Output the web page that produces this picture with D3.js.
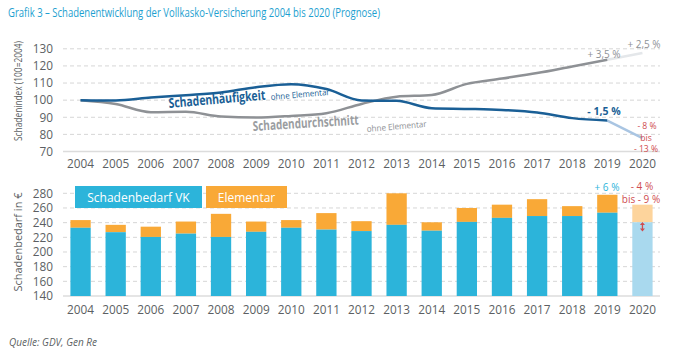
<!DOCTYPE html>
<html><head><meta charset="utf-8">
<script src="https://cdn.jsdelivr.net/npm/d3@7"></script>
<style>
body{margin:0;background:#fff;}
text{font-family:"Open Sans","Noto Sans",sans-serif;}
</style></head>
<body><svg id="c" width="674" height="360"></svg>
<script>
const years = ["2004","2005","2006","2007","2008","2009","2010","2011","2012","2013","2014","2015","2016","2017","2018","2019","2020"];
const haeufigkeit = [100, 99.8, 101.5, 102.9, 104.5, 107.6, 109.3, 106.5, 99.8, 99.6, 95.3, 94.9, 94.3, 92.8, 89.5, 88.1, 77.8];
const durchschnitt = [100, 97.8, 93, 93.2, 90.4, 89.8, 90.8, 92.4, 97.8, 102, 103, 109.5, 112.6, 115.8, 119.7, 123.6, 127.5];
const bedarfVK = [233, 227, 220.5, 225, 220.5, 227.5, 233, 230.5, 228.5, 237, 229, 241, 246.5, 249, 249, 253.5, 240.5];
const elementarTotal = [243.5, 237, 234.5, 241.5, 252, 241.5, 243.5, 253, 242, 280, 240.5, 260, 264.5, 272, 262.5, 278, 264.5];
const indexTicks = [70, 80, 90, 100, 110, 120, 130];
const bedarfTicks = [140, 160, 180, 200, 220, 240, 260, 280];

const svg = d3.select("#c");
const grey = "#5c5f63";
const x = d3.scaleBand().domain(years).range([63, 660]).padding(0);
const cx = d => x(d) + x.bandwidth() / 2;
const tickFs = 11.8;

// Title
svg.append("text").attr("x", 8).attr("y", 17).attr("fill", "#1e9fd0")
  .attr("font-size", 13).attr("textLength", 372).attr("lengthAdjust", "spacingAndGlyphs")
  .text("Grafik 3 – Schadenentwicklung der Vollkasko-Versicherung 2004 bis 2020 (Prognose)");

// ---------- Top chart ----------
const yT = d3.scaleLinear().domain([70, 130]).range([151.5, 48.8]);
indexTicks.forEach(t => {
  svg.append("line").attr("x1", 63).attr("x2", 660).attr("y1", yT(t)).attr("y2", yT(t))
    .attr("stroke", t === 70 ? "#dcdcdc" : "#d6d6d6").attr("stroke-width", t === 70 ? 1.5 : 1)
    .attr("stroke-dasharray", t === 70 ? null : "4,3");
});
const gax = svg.append("g").attr("transform", "translate(53,0)")
  .call(d3.axisLeft(yT).tickValues(indexTicks).tickSize(0).tickPadding(0));
gax.select(".domain").remove();
gax.selectAll("text").attr("font-size", tickFs).attr("fill", grey).attr("font-family", "Open Sans");

const gxT = svg.append("g").attr("transform", "translate(0,160)").call(d3.axisBottom(x).tickSize(0).tickPadding(0));
gxT.select(".domain").remove();
gxT.selectAll("text").attr("font-size", tickFs).attr("fill", grey).attr("font-family", "Open Sans");

svg.append("text").attr("transform", "translate(22,91) rotate(-90)").attr("text-anchor", "middle")
  .attr("font-size", 11.5).attr("fill", grey).attr("textLength", 100).attr("lengthAdjust", "spacingAndGlyphs")
  .text("Schadenindex (100=2004)");

const line = d3.line().x((d, i) => cx(years[i])).y(d => yT(d)).curve(d3.curveMonotoneX);
const n = years.length;
const seg = d3.line().x((d, i) => cx(years[n - 2 + i])).y(d => yT(d));
svg.append("path").datum(durchschnitt.slice(n - 2)).attr("fill", "none").attr("stroke", "#e4e7ea").attr("stroke-width", 2.5).attr("d", seg);
svg.append("path").datum(haeufigkeit.slice(n - 2)).attr("fill", "none").attr("stroke", "#a9c5e2").attr("stroke-width", 2.5).attr("d", seg);
svg.append("path").datum(durchschnitt.slice(0, n - 1)).attr("fill", "none").attr("stroke", "#8e9195").attr("stroke-width", 2.5).attr("d", line);
svg.append("path").datum(haeufigkeit.slice(0, n - 1)).attr("fill", "none").attr("stroke", "#1a5f96").attr("stroke-width", 2.5).attr("d", line);

// Line labels
svg.append("text").attr("transform", "translate(169,108) rotate(-5)").attr("font-size", 13.5).attr("font-weight", "bold")
  .attr("fill", "#1a5f96").attr("textLength", 97).attr("lengthAdjust", "spacingAndGlyphs").text("Schadenhäufigkeit");
svg.append("text").attr("transform", "translate(271,100) rotate(-5)").attr("font-size", 8.5)
  .attr("fill", "#1a5f96").attr("textLength", 59).attr("lengthAdjust", "spacingAndGlyphs").text("ohne Elementar");
svg.append("text").attr("transform", "translate(253,131) rotate(-3.5)").attr("font-size", 13.5).attr("font-weight", "bold")
  .attr("fill", "#9a9da1").attr("textLength", 106).attr("lengthAdjust", "spacingAndGlyphs").text("Schadendurchschnitt");
svg.append("text").attr("transform", "translate(367,132) rotate(-5)").attr("font-size", 8.5)
  .attr("fill", "#8e9195").attr("textLength", 60).attr("lengthAdjust", "spacingAndGlyphs").text("ohne Elementar");

// Annotations helper
const ann = (tx, ty, s, col, fs, bold) => svg.append("text").attr("x", tx).attr("y", ty).attr("text-anchor", "middle")
  .attr("font-size", fs).attr("fill", col).attr("font-weight", bold ? "bold" : null).text(s);
ann(604, 58, "+ 3,5 %", "#8e9195", 10);
ann(644, 47.5, "+ 2,5 %", "#8e9195", 10);
ann(604, 115, "- 1,5 %", "#1a5f96", 10.5, true);
ann(647, 128.8, "- 8 %", "#cf4c4f", 8.6);
ann(646, 140.5, "bis", "#cf4c4f", 8.6);
ann(646, 152.2, "- 13 %", "#cf4c4f", 8.6);

// ---------- Bottom chart ----------
const yB = d3.scaleLinear().domain([140, 280]).range([296, 193.3]);
bedarfTicks.forEach(t => {
  svg.append("line").attr("x1", 63).attr("x2", 660).attr("y1", yB(t)).attr("y2", yB(t))
    .attr("stroke", t === 140 ? "#dcdcdc" : "#d6d6d6").attr("stroke-width", t === 140 ? 1.5 : 1)
    .attr("stroke-dasharray", t === 140 ? null : "4,3");
});
const gaxB = svg.append("g").attr("transform", "translate(53,0)")
  .call(d3.axisLeft(yB).tickValues(bedarfTicks).tickSize(0).tickPadding(0));
gaxB.select(".domain").remove();
gaxB.selectAll("text").attr("font-size", tickFs).attr("fill", grey).attr("font-family", "Open Sans");

const gxB = svg.append("g").attr("transform", "translate(0,306)").call(d3.axisBottom(x).tickSize(0).tickPadding(0));
gxB.select(".domain").remove();
gxB.selectAll("text").attr("font-size", tickFs).attr("fill", grey).attr("font-family", "Open Sans");

svg.append("text").attr("transform", "translate(22,242) rotate(-90)").attr("text-anchor", "middle")
  .attr("font-size", 11.5).attr("fill", grey).attr("textLength", 99).attr("lengthAdjust", "spacingAndGlyphs")
  .text("Schadenbedarf in €");

const bw = 20.3;
const last = years[n - 1];
svg.selectAll(".bt").data(years).enter().append("rect")
  .attr("x", d => cx(d) - bw / 2).attr("width", bw)
  .attr("y", (d, i) => yB(elementarTotal[i])).attr("height", (d, i) => yB(bedarfVK[i]) - yB(elementarTotal[i]))
  .attr("fill", d => d === last ? "#fdd49c" : "#f9a937");
svg.selectAll(".bb").data(years).enter().append("rect")
  .attr("x", d => cx(d) - bw / 2).attr("width", bw)
  .attr("y", (d, i) => yB(bedarfVK[i])).attr("height", (d, i) => yB(140) - yB(bedarfVK[i]))
  .attr("fill", d => d === last ? "#a9d9ee" : "#2cb4da");

// Legend boxes
svg.append("rect").attr("x", 75).attr("y", 186).attr("width", 127).attr("height", 22).attr("fill", "#2cb4da");
svg.append("text").attr("x", 138.5).attr("y", 201.5).attr("text-anchor", "middle").attr("fill", "#fff")
  .attr("font-size", 12).text("Schadenbedarf VK");
svg.append("rect").attr("x", 206).attr("y", 186).attr("width", 81).attr("height", 22).attr("fill", "#f9a937");
svg.append("text").attr("x", 246.5).attr("y", 201.5).attr("text-anchor", "middle").attr("fill", "#fff")
  .attr("font-size", 12).text("Elementar");

// Bottom annotations
ann(607, 191, "+ 6 %", "#2cb4da", 10);
ann(642, 190, "- 4 %", "#cf4c4f", 10);
ann(641, 202.5, "bis - 9 %", "#cf4c4f", 10);
// double arrow
const ax0 = cx(last);
svg.append("line").attr("x1", ax0).attr("x2", ax0).attr("y1", 223.5).attr("y2", 230).attr("stroke", "#cf4c4f").attr("stroke-width", 1.3);
svg.append("path").attr("d", `M${ax0-2.5},225 L${ax0},222 L${ax0+2.5},225 Z M${ax0-2.5},228.5 L${ax0},231.5 L${ax0+2.5},228.5 Z`).attr("fill", "#cf4c4f");

// Source
svg.append("text").attr("x", 9).attr("y", 346).attr("font-size", 10).attr("font-style", "italic").attr("fill", grey)
  .text("Quelle: GDV, Gen Re");
</script></body></html>
